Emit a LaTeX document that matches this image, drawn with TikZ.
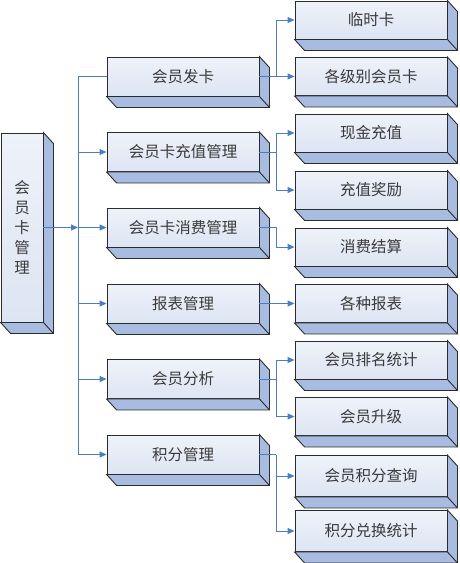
\documentclass[tikz,border=0pt]{standalone}
\usepackage{fontspec}
\newfontfamily\cjk{Noto Sans CJK SC}
\usetikzlibrary{arrows.meta,calc}
\definecolor{fronttop}{HTML}{EEF2F9}
\definecolor{frontbot}{HTML}{DDE5F3}
\definecolor{sidec}{HTML}{A8BCE1}
\definecolor{edgec}{HTML}{2B2B2B}
\definecolor{linec}{HTML}{4C7DBE}
\definecolor{textc}{HTML}{3A3A3A}
\tikzset{
  boxbase/.style={draw=edgec, line width=0.9pt, top color=fronttop, bottom color=frontbot,
    inner sep=0pt, text=textc, font=\cjk\fontsize{15.5}{20}\selectfont},
  rootbox/.style={boxbase, minimum width=42pt, minimum height=189pt, align=center},
  midbox/.style={boxbase, minimum width=152pt, minimum height=39pt},
  rightbox/.style={boxbase, minimum width=152pt, minimum height=38pt},
  face/.style={draw=edgec, line width=0.9pt, fill=sidec, line join=miter},
  wire/.style={draw=linec, line width=0.9pt},
  arr/.style={wire, -{Triangle[length=7pt,width=6pt]}},
}
\newcommand\extrude[1]{%
  \filldraw[face] (#1.north east) -- ++(10,11) -- ($(#1.south east)+(10,11)$)
     -- ($(#1.south west)+(10,11)$) -- (#1.south west) -- (#1.south east) -- cycle;
  \draw[face] (#1.south east) -- ++(10,11);}
\begin{document}
\begin{tikzpicture}[x=1pt,y=-1pt]
\useasboundingbox (0,0) rectangle (459,563);
% root
\node[rootbox] (root) at (22,227.5) {会\\员\\卡\\管\\理};
% middle level
\node[midbox] (m1) at (183,76.5) {会员发卡};
\node[midbox] (m2) at (183,152) {会员卡充值管理};
\node[midbox] (m3) at (183,227.5) {会员卡消费管理};
\node[midbox] (m4) at (183,303.5) {报表管理};
\node[midbox] (m5) at (183,379) {会员分析};
\node[midbox] (m6) at (183,454.5) {积分管理};
% right level
\node[rightbox] (r1) at (371,20) {临时卡};
\node[rightbox] (r2) at (371,76.5) {各级别会员卡};
\node[rightbox] (r3) at (371,133) {现金充值};
\node[rightbox] (r4) at (371,190) {充值奖励};
\node[rightbox] (r5) at (371,247) {消费结算};
\node[rightbox] (r6) at (371,303.5) {各种报表};
\node[rightbox] (r7) at (371,360) {会员排名统计};
\node[rightbox] (r8) at (371,416.5) {会员升级};
\node[rightbox, minimum height=41pt] (r9) at (371,476) {会员积分查询};
\node[rightbox, minimum height=41pt] (r10) at (371,531) {积分兑换统计};
% 3D faces
\foreach \n in {root,m1,m2,m3,m4,m5,m6,r1,r2,r3,r4,r5,r6,r7,r8,r9,r10}{\extrude{\n}}
% bus coordinates
\coordinate (bus) at (78,0);
\coordinate (br) at (276,0);
% root to bus
\draw[arr] (root.east) -- (bus |- root.east);
\draw[wire] (m1.west) -| (bus |- m6.west);
\foreach \n in {m2,m3,m4,m5,m6}{\draw[arr] (bus |- \n.west) -- (\n.west);}
% middle to right
\draw[wire] (m1.east) -- (br |- m1.east);
\draw[arr] (br |- m1.east) |- (r1.west);
\draw[arr] (br |- m1.east) -- (r2.west);
\draw[wire] (m2.east) -- (br |- m2.east);
\draw[arr] (br |- m2.east) |- (r3.west);
\draw[arr] (br |- m2.east) |- (r4.west);
\draw[arr] (m3.east) -- (br |- m3.east) |- (r5.west);
\draw[arr] (m4.east) -- (r6.west);
\draw[wire] (m5.east) -- (br |- m5.east);
\draw[arr] (br |- m5.east) |- (r7.west);
\draw[arr] (br |- m5.east) |- (r8.west);
\draw[wire] (m6.east) -- (br |- m6.east);
\draw[arr] (br |- m6.east) |- (r9.west);
\draw[arr] (br |- m6.east) |- (r10.west);
\end{tikzpicture}
\end{document}
